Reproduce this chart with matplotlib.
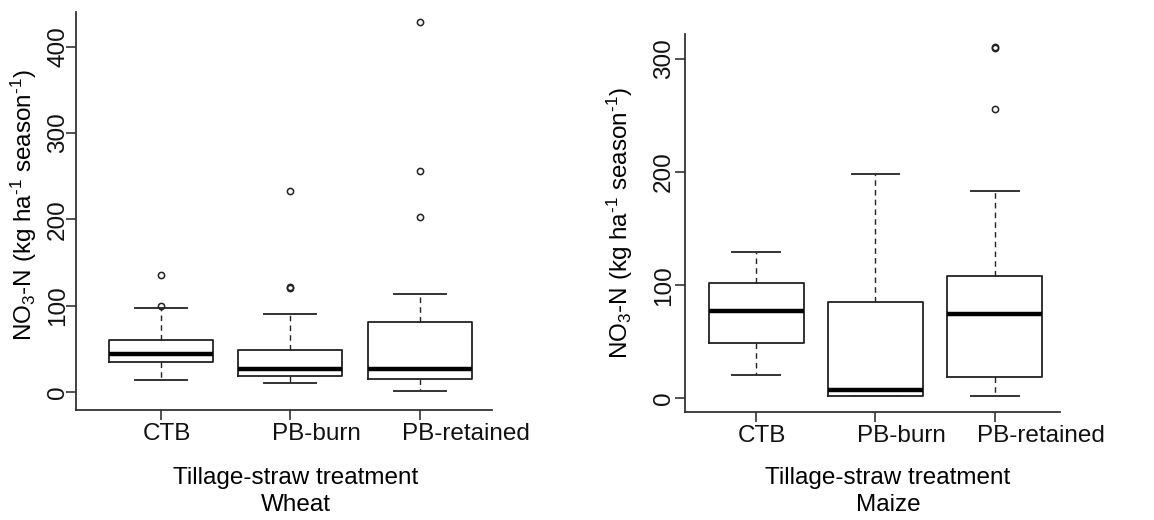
import matplotlib
matplotlib.use("Agg")
import matplotlib.pyplot as plt
import matplotlib.transforms as mtransforms

plt.rcParams['font.family'] = ['Liberation Sans', 'DejaVu Sans']
plt.rcParams['mathtext.fontset'] = 'custom'
plt.rcParams['mathtext.rm'] = 'Liberation Sans'
plt.rcParams['mathtext.it'] = 'Liberation Sans'

categories = ["CTB", "PB-burn", "PB-retained"]

# Wheat
wheat_q1 = [34.4, 18.5, 14.7]
wheat_med = [44.0, 27.0, 26.0]
wheat_q3 = [59.8, 49.0, 80.6]
wheat_whislo = [13.5, 10.0, 0.8]
wheat_whishi = [97.0, 90.6, 113.0]
wheat_fliers = [[135.0, 100.0], [233.0, 120.0, 121.0], [428.6, 255.4, 202.0]]

# Maize
maize_q1 = [48.6, 2.3, 19.0]
maize_med = [77.0, 7.3, 74.3]
maize_q3 = [102.0, 84.9, 108.0]
maize_whislo = [20.3, 2.0, 2.3]
maize_whishi = [129.0, 198.6, 183.3]
maize_fliers = [[], [], [309.5, 310.5, 255.8]]

wheat_yticks = [0, 100, 200, 300, 400]
maize_yticks = [0, 100, 200, 300]

ylabel = "NO$\\mathregular{_3}$-N (kg ha$\\mathregular{^{\u20101}}$ season$\\mathregular{^{\u20101}}$)"

FS = 17.5
LC = "#222222"

fig = plt.figure(figsize=(11.54, 5.2), dpi=100)
ax1 = fig.add_axes([0.0659, 0.2115, 0.3605, 0.7654])
ax2 = fig.add_axes([0.5933, 0.2083, 0.3250, 0.7258])


def make_stats(q1, med, q3, lo, hi, fl):
    out = []
    for i in range(len(q1)):
        out.append(dict(q1=q1[i], med=med[i], q3=q3[i], whislo=lo[i],
                        whishi=hi[i], fliers=fl[i], label=categories[i]))
    return out


def draw(ax, stats, ylim, xlim, yticks, sub, ypad, ylab_xy, xlab_xy):
    ax.bxp(stats, positions=[1, 2, 3], widths=0.8,
           boxprops=dict(color=LC, linewidth=1.3),
           medianprops=dict(color="black", linewidth=3.2, solid_capstyle='butt'),
           whiskerprops=dict(color=LC, linewidth=1.0, linestyle=(0, (4, 3))),
           capprops=dict(color="#333333", linewidth=1.4),
           flierprops=dict(marker='o', markerfacecolor='none', markeredgecolor=LC,
                           markersize=4.5, markeredgewidth=1.1),
           capwidths=0.4)
    ax.set_xlim(*xlim)
    ax.set_ylim(*ylim)
    for s in ['top', 'right']:
        ax.spines[s].set_visible(False)
    for s in ['left', 'bottom']:
        ax.spines[s].set_color("#333333")
        ax.spines[s].set_linewidth(1.3)
    ax.set_yticks(yticks)
    ax.set_yticklabels([str(v) for v in yticks], rotation=90, va='center', fontsize=FS)
    ax.tick_params(axis='both', length=7, width=1.2, color="#333333", labelcolor="#111111")
    ax.tick_params(axis='y', pad=ypad)
    ax.tick_params(axis='x', pad=2.5)
    ax.set_xticks([1, 2, 3])
    ax.set_xticklabels(categories, fontsize=FS, ha='left')
    off = mtransforms.ScaledTranslation(-18 / 100, 0, fig.dpi_scale_trans)
    for lab in ax.get_xticklabels():
        lab.set_transform(lab.get_transform() + off)
    ax.set_ylabel(ylabel, fontsize=FS)
    ax.yaxis.set_label_coords(*ylab_xy)
    ax.set_xlabel("Tillage-straw treatment\n" + sub, fontsize=FS, linespacing=1.3)
    ax.xaxis.set_label_coords(*xlab_xy)


draw(ax1, make_stats(wheat_q1, wheat_med, wheat_q3, wheat_whislo, wheat_whishi, wheat_fliers),
     (-21, 440), (0.346, 3.558), wheat_yticks, "Wheat", -2.0, (-0.09, 0.515), (0.529, -0.143))
draw(ax2, make_stats(maize_q1, maize_med, maize_q3, maize_whislo, maize_whishi, maize_fliers),
     (-11.8, 321.8), (0.4, 3.545), maize_yticks, "Maize", 0.0, (-0.1325, 0.50), (0.542, -0.146))

fig.savefig("out.png", dpi=100, facecolor="white")
